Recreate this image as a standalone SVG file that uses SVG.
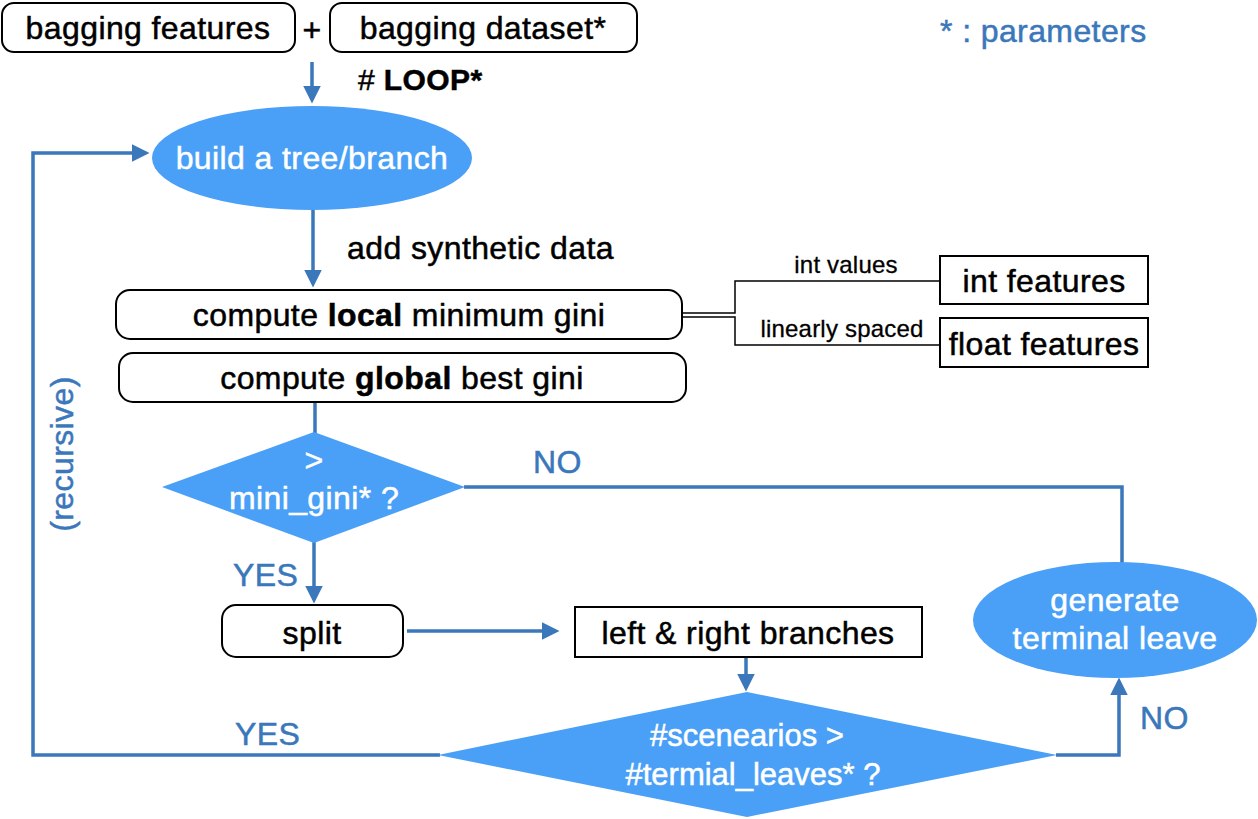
<svg xmlns="http://www.w3.org/2000/svg" width="1258" height="819" viewBox="0 0 1258 819">
<style>
.t{font-family:"Liberation Sans",Arial,sans-serif;font-size:32px;letter-spacing:0.4px;fill:#000;stroke:#000;stroke-width:0.5px;text-anchor:middle}
.w{fill:#fff;stroke:#fff}
.b{fill:#3a77bb;stroke:#3a77bb}
.box{fill:#fff;stroke:#000;stroke-width:2}
.blue{fill:#4aa0f6}
.con{fill:none;stroke:#3a77bb;stroke-width:3.5}
.thin{fill:none;stroke:#000;stroke-width:1.5}
.sm{font-size:24px;letter-spacing:0.2px;stroke-width:0.3px}
.d2{font-size:31px;letter-spacing:0}
</style>
<defs>
<marker id="ah" markerWidth="5" markerHeight="5" refX="4" refY="2.5" orient="auto" markerUnits="strokeWidth">
<path d="M0,0 L5,2.5 L0,5 Z" fill="#3a77bb"/>
</marker>
</defs>
<rect width="1258" height="819" fill="#fff"/>
<g id="connectors">
<path class="con" d="M312,62 V100" marker-end="url(#ah)"/>
<path class="con" d="M440,755 H33 V153 H146" marker-end="url(#ah)"/>
<path class="con" d="M313,210 V284" marker-end="url(#ah)"/>
<path class="con" d="M315,402 V433"/>
<path class="con" d="M464,487 H1122 V563"/>
<path class="con" d="M314,542 V600" marker-end="url(#ah)"/>
<path class="con" d="M407,631 H556" marker-end="url(#ah)"/>
<path class="con" d="M746,658 V688" marker-end="url(#ah)"/>
<path class="con" d="M1056,755 H1119 V681" marker-end="url(#ah)"/>
<path class="thin" d="M683,313 H735 V281 H940"/>
<path class="thin" d="M683,317 H735 V345 H940"/>
</g>
<g id="bagging_features"><rect class="box" x="2" y="3" width="293" height="49" rx="12"/><text class="t" x="148" y="39">bagging features</text></g>
<g id="plus"><text class="t" x="312" y="41">+</text></g>
<g id="bagging_dataset"><rect class="box" x="330" y="3" width="307" height="49" rx="12"/><text class="t" x="483" y="39">bagging dataset*</text></g>
<g id="legend"><text class="t b" x="940" y="42" style="text-anchor:start">* : parameters</text></g>
<g id="loop"><text class="t" x="358" y="90" style="text-anchor:start;font-size:30px">#<tspan font-weight="bold"> LOOP*</tspan></text></g>
<g id="build_tree"><ellipse class="blue" cx="312" cy="158" rx="160" ry="52"/><text class="t w" x="312" y="169">build a tree/branch</text></g>
<g id="recursive"><text class="t b" transform="translate(73,454) rotate(-90)">(recursive)</text></g>
<g id="synthetic"><text class="t" x="347" y="259" style="text-anchor:start">add synthetic data</text></g>
<g id="local_gini"><rect class="box" x="116" y="290" width="566" height="49" rx="14"/><text class="t" x="399" y="326">compute <tspan font-weight="bold">local</tspan> minimum gini</text></g>
<g id="global_gini"><rect class="box" x="119" y="353" width="567" height="49" rx="14"/><text class="t" x="402" y="389">compute <tspan font-weight="bold">global</tspan> best gini</text></g>
<g id="int_values"><text class="t sm" x="846" y="273">int values</text></g>
<g id="linearly"><text class="t sm" x="842" y="337">linearly spaced</text></g>
<g id="int_features"><rect class="box" x="940" y="256" width="208" height="48"/><text class="t" x="1044" y="292">int features</text></g>
<g id="float_features"><rect class="box" x="940" y="318" width="208" height="49"/><text class="t" x="1044" y="355">float features</text></g>
<g id="diamond_gini"><polygon class="blue" points="314,432 465,487 314,543 162,487"/><text class="t w" x="314" y="471">&gt;</text><text class="t w" x="314" y="509">mini_gini* ?</text></g>
<g id="no1"><text class="t b" x="533" y="473" style="text-anchor:start">NO</text></g>
<g id="yes1"><text class="t b" x="233" y="586" style="text-anchor:start">YES</text></g>
<g id="split"><rect class="box" x="222" y="605" width="181" height="52" rx="14"/><text class="t" x="312" y="644">split</text></g>
<g id="branches"><rect class="box" x="575" y="607" width="347" height="50"/><text class="t" x="748" y="644">left &amp; right branches</text></g>
<g id="diamond_leaves"><polygon class="blue" points="747,692 1057,755 747,817 438,755"/><text class="t w d2" x="747" y="746">#scenearios &gt;</text><text class="t w d2" x="753" y="785">#termial_leaves* ?</text></g>
<g id="yes2"><text class="t b" x="235" y="745" style="text-anchor:start">YES</text></g>
<g id="no2"><text class="t b" x="1140" y="729" style="text-anchor:start">NO</text></g>
<g id="terminal"><ellipse class="blue" cx="1115" cy="620" rx="142" ry="58"/><text class="t w" x="1115" y="611">generate</text><text class="t w" x="1115" y="649">terminal leave</text></g>
</svg>
